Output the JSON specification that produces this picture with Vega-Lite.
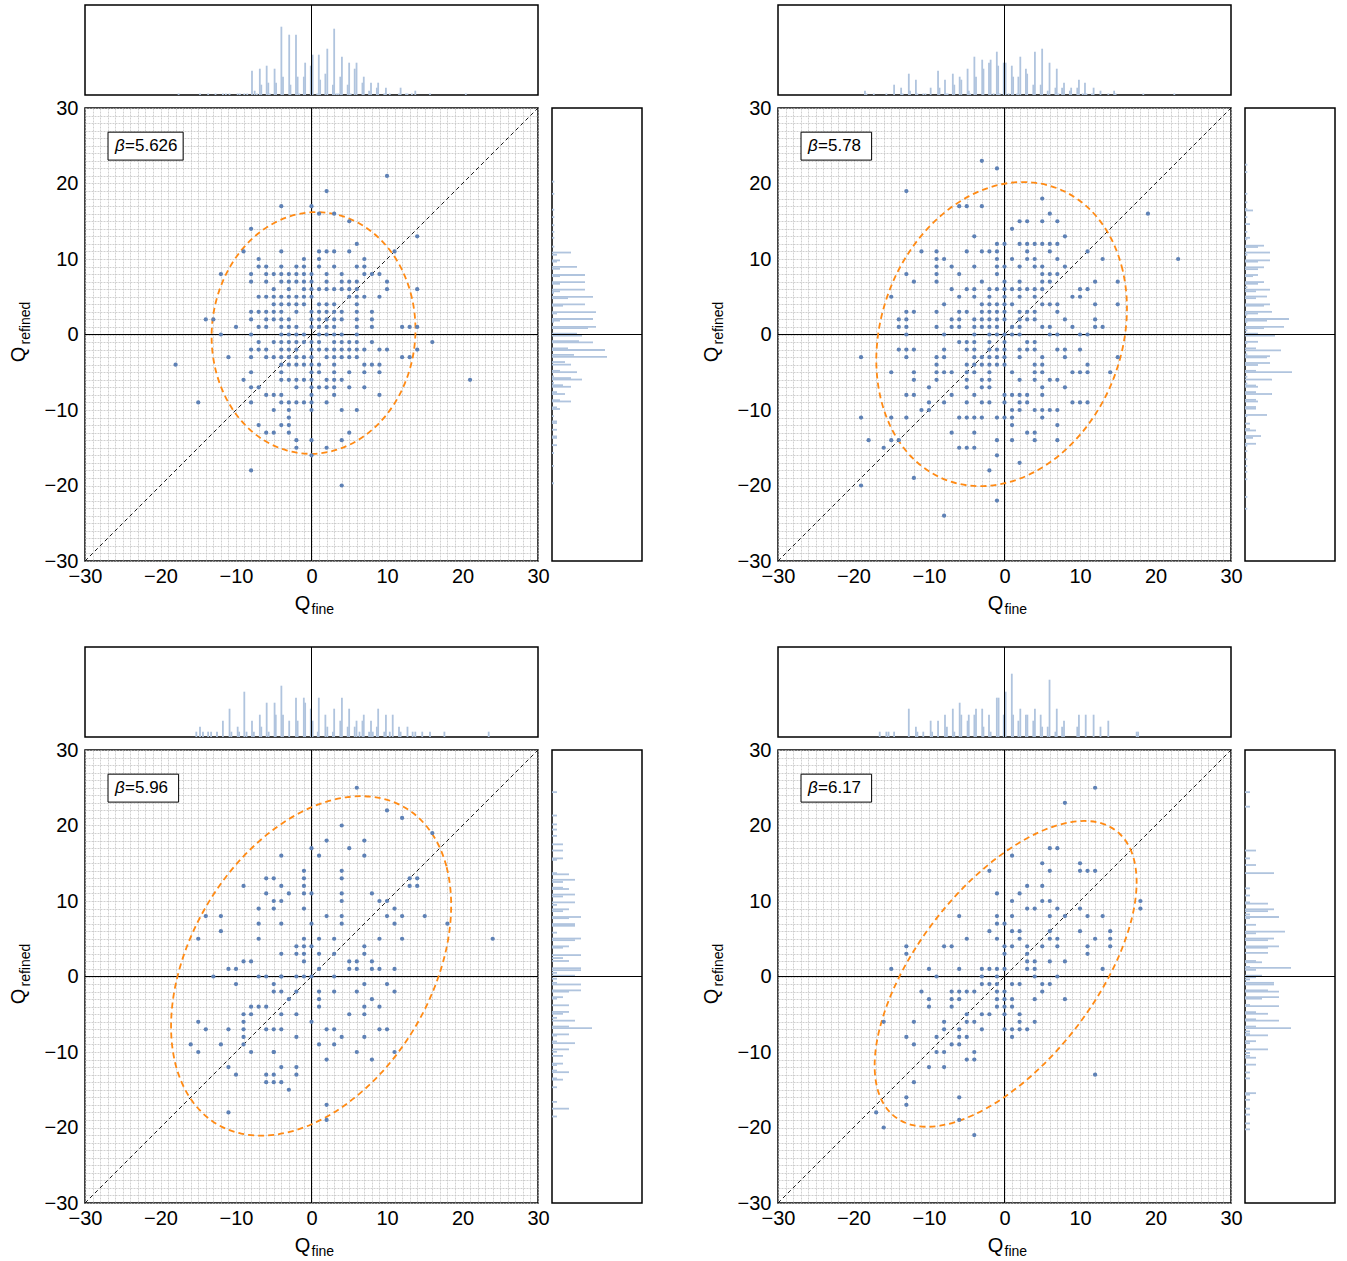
{
"$schema": "https://vega.github.io/schema/vega-lite/v6.json",
"background": "white",
"padding": {"left": 8, "top": 3, "right": 0, "bottom": 0},
"config": {
  "view": {"stroke": null},
  "font": "Liberation Sans",
  "axis": {"grid": true, "gridColor": "#c4c4c4", "gridOpacity": 1, "gridWidth": 0.8, "gridDash": [2, 1], "ticks": false, "domain": false, "labelFont": "Liberation Sans", "labelFontSize": 20, "labelColor": "black", "labelFlush": false, "labelOverlap": false}
},
"datasets": {
"p1": [{"x":10,"y":21},{"x":2,"y":19},{"x":-4,"y":17},{"x":0,"y":17},{"x":1,"y":16},{"x":3,"y":16},{"x":5,"y":15},{"x":-8,"y":14},{"x":14,"y":13},{"x":6,"y":12},
{"x":-9,"y":11},{"x":-4,"y":11},{"x":1,"y":11},{"x":2,"y":11},{"x":3,"y":11},{"x":5,"y":11},{"x":11,"y":11},
{"x":-7,"y":10},{"x":-1,"y":10},{"x":1,"y":10},{"x":7,"y":10},
{"x":-7,"y":9},{"x":-6,"y":9},{"x":-4,"y":9},{"x":-2,"y":9},{"x":-1,"y":9},{"x":1,"y":9},{"x":3,"y":9},{"x":6,"y":9},{"x":7,"y":9},
{"x":-12,"y":8},{"x":-8,"y":8},{"x":-6,"y":8},{"x":-5,"y":8},{"x":-4,"y":8},{"x":-3,"y":8},{"x":-2,"y":8},{"x":-1,"y":8},{"x":0,"y":8},{"x":2,"y":8},{"x":4,"y":8},{"x":7,"y":8},{"x":8,"y":8},{"x":9,"y":8},
{"x":-8,"y":7},{"x":-6,"y":7},{"x":-4,"y":7},{"x":-3,"y":7},{"x":-2,"y":7},{"x":-1,"y":7},{"x":0,"y":7},{"x":2,"y":7},{"x":4,"y":7},{"x":5,"y":7},{"x":6,"y":7},{"x":10,"y":7},
{"x":-5,"y":6},{"x":-3,"y":6},{"x":-1,"y":6},{"x":0,"y":6},{"x":1,"y":6},{"x":2,"y":6},{"x":3,"y":6},{"x":4,"y":6},{"x":5,"y":6},{"x":6,"y":6},{"x":10,"y":6},{"x":14,"y":6},
{"x":-7,"y":5},{"x":-6,"y":5},{"x":-5,"y":5},{"x":-4,"y":5},{"x":-3,"y":5},{"x":-2,"y":5},{"x":-1,"y":5},{"x":0,"y":5},{"x":5,"y":5},{"x":6,"y":5},{"x":7,"y":5},{"x":9,"y":5},
{"x":-5,"y":4},{"x":-4,"y":4},{"x":-3,"y":4},{"x":-2,"y":4},{"x":-1,"y":4},{"x":1,"y":4},{"x":2,"y":4},{"x":3,"y":4},{"x":6,"y":4},
{"x":-8,"y":3},{"x":-7,"y":3},{"x":-6,"y":3},{"x":-5,"y":3},{"x":-4,"y":3},{"x":-2,"y":3},{"x":0,"y":3},{"x":1,"y":3},{"x":2,"y":3},{"x":3,"y":3},{"x":4,"y":3},{"x":6,"y":3},{"x":8,"y":3},
{"x":-14,"y":2},{"x":-13,"y":2},{"x":-8,"y":2},{"x":-6,"y":2},{"x":-5,"y":2},{"x":-4,"y":2},{"x":-3,"y":2},{"x":0,"y":2},{"x":1,"y":2},{"x":2,"y":2},{"x":3,"y":2},{"x":4,"y":2},{"x":6,"y":2},{"x":8,"y":2},
{"x":-10,"y":1},{"x":-7,"y":1},{"x":-6,"y":1},{"x":-4,"y":1},{"x":-3,"y":1},{"x":-2,"y":1},{"x":0,"y":1},{"x":1,"y":1},{"x":2,"y":1},{"x":3,"y":1},{"x":6,"y":1},{"x":8,"y":1},{"x":12,"y":1},{"x":13,"y":1},{"x":14,"y":1},
{"x":-12,"y":0},{"x":-8,"y":0},{"x":-4,"y":0},{"x":-3,"y":0},{"x":-2,"y":0},{"x":-1,"y":0},{"x":1,"y":0},{"x":2,"y":0},{"x":3,"y":0},{"x":4,"y":0},{"x":6,"y":0},
{"x":-7,"y":-1},{"x":-5,"y":-1},{"x":-4,"y":-1},{"x":-3,"y":-1},{"x":-2,"y":-1},{"x":-1,"y":-1},{"x":0,"y":-1},{"x":1,"y":-1},{"x":3,"y":-1},{"x":4,"y":-1},{"x":5,"y":-1},{"x":6,"y":-1},{"x":8,"y":-1},{"x":16,"y":-1},
{"x":-8,"y":-2},{"x":-7,"y":-2},{"x":-6,"y":-2},{"x":-4,"y":-2},{"x":-3,"y":-2},{"x":-2,"y":-2},{"x":0,"y":-2},{"x":1,"y":-2},{"x":2,"y":-2},{"x":3,"y":-2},{"x":4,"y":-2},{"x":5,"y":-2},{"x":6,"y":-2},{"x":7,"y":-2},{"x":9,"y":-2},{"x":10,"y":-2},{"x":14,"y":-2},
{"x":-11,"y":-3},{"x":-8,"y":-3},{"x":-6,"y":-3},{"x":-5,"y":-3},{"x":-4,"y":-3},{"x":-3,"y":-3},{"x":-2,"y":-3},{"x":-1,"y":-3},{"x":0,"y":-3},{"x":2,"y":-3},{"x":3,"y":-3},{"x":4,"y":-3},{"x":5,"y":-3},{"x":6,"y":-3},{"x":12,"y":-3},{"x":13,"y":-3},
{"x":-18,"y":-4},{"x":-4,"y":-4},{"x":-3,"y":-4},{"x":-2,"y":-4},{"x":-1,"y":-4},{"x":0,"y":-4},{"x":1,"y":-4},{"x":3,"y":-4},{"x":7,"y":-4},{"x":8,"y":-4},{"x":9,"y":-4},
{"x":-8,"y":-5},{"x":-4,"y":-5},{"x":0,"y":-5},{"x":1,"y":-5},{"x":3,"y":-5},{"x":5,"y":-5},{"x":7,"y":-5},{"x":9,"y":-5},
{"x":-9,"y":-6},{"x":-4,"y":-6},{"x":-3,"y":-6},{"x":-2,"y":-6},{"x":-1,"y":-6},{"x":0,"y":-6},{"x":2,"y":-6},{"x":3,"y":-6},{"x":4,"y":-6},{"x":21,"y":-6},
{"x":-8,"y":-7},{"x":-7,"y":-7},{"x":-2,"y":-7},{"x":0,"y":-7},{"x":1,"y":-7},{"x":2,"y":-7},{"x":3,"y":-7},{"x":5,"y":-7},{"x":7,"y":-7},
{"x":-6,"y":-8},{"x":-5,"y":-8},{"x":-4,"y":-8},{"x":0,"y":-8},{"x":3,"y":-8},{"x":9,"y":-8},
{"x":-15,"y":-9},{"x":-8,"y":-9},{"x":-4,"y":-9},{"x":-3,"y":-9},{"x":-2,"y":-9},{"x":-1,"y":-9},{"x":0,"y":-9},{"x":2,"y":-9},
{"x":-5,"y":-10},{"x":-3,"y":-10},{"x":0,"y":-10},{"x":4,"y":-10},{"x":6,"y":-10},
{"x":-3,"y":-11},{"x":-7,"y":-12},{"x":-4,"y":-12},{"x":-3,"y":-12},
{"x":-6,"y":-13},{"x":-5,"y":-13},{"x":-3,"y":-13},{"x":5,"y":-13},
{"x":-2,"y":-14},{"x":0,"y":-14},{"x":4,"y":-14},{"x":-2,"y":-15},{"x":2,"y":-15},{"x":0,"y":-16},{"x":-8,"y":-18},{"x":4,"y":-20}],
"p2": [{"x":-3,"y":23},{"x":-1,"y":22},{"x":-13,"y":19},{"x":5,"y":18},{"x":-6,"y":17},{"x":-5,"y":17},{"x":-3,"y":17},{"x":6,"y":16},{"x":19,"y":16},{"x":2,"y":15},{"x":3,"y":15},{"x":5,"y":15},{"x":7,"y":15},{"x":1,"y":14},{"x":-4,"y":13},{"x":8,"y":13},
{"x":-1,"y":12},{"x":0,"y":12},{"x":2,"y":12},{"x":3,"y":12},{"x":4,"y":12},{"x":5,"y":12},{"x":6,"y":12},{"x":7,"y":12},
{"x":-11,"y":11},{"x":-9,"y":11},{"x":-5,"y":11},{"x":-3,"y":11},{"x":-2,"y":11},{"x":-1,"y":11},{"x":3,"y":11},{"x":6,"y":11},{"x":11,"y":11},
{"x":-9,"y":10},{"x":-8,"y":10},{"x":-1,"y":10},{"x":1,"y":10},{"x":3,"y":10},{"x":4,"y":10},{"x":7,"y":10},{"x":13,"y":10},{"x":23,"y":10},
{"x":-9,"y":9},{"x":-7,"y":9},{"x":-4,"y":9},{"x":-1,"y":9},{"x":0,"y":9},{"x":2,"y":9},{"x":4,"y":9},{"x":5,"y":9},{"x":8,"y":9},
{"x":-13,"y":8},{"x":-9,"y":8},{"x":-6,"y":8},{"x":-1,"y":8},{"x":5,"y":8},{"x":6,"y":8},{"x":7,"y":8},
{"x":-12,"y":7},{"x":-9,"y":7},{"x":-3,"y":7},{"x":0,"y":7},{"x":2,"y":7},{"x":5,"y":7},{"x":6,"y":7},{"x":12,"y":7},{"x":15,"y":7},
{"x":-7,"y":6},{"x":-5,"y":6},{"x":-4,"y":6},{"x":-2,"y":6},{"x":-1,"y":6},{"x":0,"y":6},{"x":1,"y":6},{"x":2,"y":6},{"x":3,"y":6},{"x":4,"y":6},{"x":5,"y":6},{"x":10,"y":6},{"x":11,"y":6},
{"x":-15,"y":5},{"x":-6,"y":5},{"x":-4,"y":5},{"x":-2,"y":5},{"x":0,"y":5},{"x":2,"y":5},{"x":4,"y":5},{"x":9,"y":5},{"x":10,"y":5},
{"x":-8,"y":4},{"x":-3,"y":4},{"x":-2,"y":4},{"x":-1,"y":4},{"x":0,"y":4},{"x":1,"y":4},{"x":5,"y":4},{"x":6,"y":4},{"x":7,"y":4},{"x":12,"y":4},{"x":15,"y":4},
{"x":-13,"y":3},{"x":-12,"y":3},{"x":-9,"y":3},{"x":-6,"y":3},{"x":-5,"y":3},{"x":-3,"y":3},{"x":-2,"y":3},{"x":-1,"y":3},{"x":0,"y":3},{"x":2,"y":3},{"x":3,"y":3},{"x":4,"y":3},{"x":7,"y":3},
{"x":-14,"y":2},{"x":-13,"y":2},{"x":-7,"y":2},{"x":-6,"y":2},{"x":-4,"y":2},{"x":-3,"y":2},{"x":-2,"y":2},{"x":-1,"y":2},{"x":0,"y":2},{"x":2,"y":2},{"x":3,"y":2},{"x":4,"y":2},{"x":8,"y":2},{"x":12,"y":2},
{"x":-14,"y":1},{"x":-13,"y":1},{"x":-9,"y":1},{"x":-7,"y":1},{"x":-6,"y":1},{"x":-4,"y":1},{"x":-3,"y":1},{"x":-2,"y":1},{"x":-1,"y":1},{"x":1,"y":1},{"x":2,"y":1},{"x":5,"y":1},{"x":6,"y":1},{"x":9,"y":1},{"x":12,"y":1},{"x":13,"y":1},
{"x":-13,"y":0},{"x":-8,"y":0},{"x":-4,"y":0},{"x":-2,"y":0},{"x":-1,"y":0},{"x":0,"y":0},{"x":1,"y":0},{"x":2,"y":0},{"x":6,"y":0},{"x":7,"y":0},{"x":10,"y":0},{"x":11,"y":0},
{"x":-6,"y":-1},{"x":-5,"y":-1},{"x":-4,"y":-1},{"x":-2,"y":-1},{"x":0,"y":-1},{"x":3,"y":-1},{"x":4,"y":-1},
{"x":-14,"y":-2},{"x":-13,"y":-2},{"x":-12,"y":-2},{"x":-8,"y":-2},{"x":-5,"y":-2},{"x":-4,"y":-2},{"x":-2,"y":-2},{"x":-1,"y":-2},{"x":0,"y":-2},{"x":2,"y":-2},{"x":3,"y":-2},{"x":4,"y":-2},{"x":7,"y":-2},{"x":8,"y":-2},{"x":10,"y":-2},
{"x":-19,"y":-3},{"x":-13,"y":-3},{"x":-9,"y":-3},{"x":-8,"y":-3},{"x":-4,"y":-3},{"x":-3,"y":-3},{"x":-2,"y":-3},{"x":-1,"y":-3},{"x":0,"y":-3},{"x":2,"y":-3},{"x":5,"y":-3},{"x":8,"y":-3},{"x":15,"y":-3},
{"x":-9,"y":-4},{"x":-5,"y":-4},{"x":-4,"y":-4},{"x":-3,"y":-4},{"x":-2,"y":-4},{"x":-1,"y":-4},{"x":0,"y":-4},{"x":4,"y":-4},{"x":5,"y":-4},{"x":11,"y":-4},
{"x":-15,"y":-5},{"x":-12,"y":-5},{"x":-9,"y":-5},{"x":-8,"y":-5},{"x":-7,"y":-5},{"x":-5,"y":-5},{"x":-4,"y":-5},{"x":-2,"y":-5},{"x":1,"y":-5},{"x":4,"y":-5},{"x":5,"y":-5},{"x":9,"y":-5},{"x":10,"y":-5},{"x":11,"y":-5},{"x":14,"y":-5},
{"x":-12,"y":-6},{"x":-9,"y":-6},{"x":-5,"y":-6},{"x":-3,"y":-6},{"x":-2,"y":-6},{"x":2,"y":-6},{"x":4,"y":-6},{"x":6,"y":-6},{"x":7,"y":-6},
{"x":-10,"y":-7},{"x":-5,"y":-7},{"x":-3,"y":-7},{"x":-2,"y":-7},{"x":5,"y":-7},{"x":8,"y":-7},
{"x":-13,"y":-8},{"x":-12,"y":-8},{"x":-7,"y":-8},{"x":-4,"y":-8},{"x":0,"y":-8},{"x":1,"y":-8},{"x":2,"y":-8},{"x":3,"y":-8},{"x":5,"y":-8},
{"x":-10,"y":-9},{"x":-8,"y":-9},{"x":-5,"y":-9},{"x":-3,"y":-9},{"x":-2,"y":-9},{"x":0,"y":-9},{"x":2,"y":-9},{"x":3,"y":-9},{"x":9,"y":-9},{"x":10,"y":-9},{"x":11,"y":-9},
{"x":-11,"y":-10},{"x":-10,"y":-10},{"x":1,"y":-10},{"x":2,"y":-10},{"x":4,"y":-10},{"x":5,"y":-10},{"x":6,"y":-10},{"x":7,"y":-10},
{"x":-19,"y":-11},{"x":-15,"y":-11},{"x":-13,"y":-11},{"x":-6,"y":-11},{"x":-5,"y":-11},{"x":-4,"y":-11},{"x":-3,"y":-11},{"x":-1,"y":-11},{"x":0,"y":-11},{"x":1,"y":-11},{"x":5,"y":-11},
{"x":1,"y":-12},{"x":7,"y":-12},{"x":-7,"y":-13},{"x":-4,"y":-13},{"x":3,"y":-13},{"x":4,"y":-13},
{"x":-18,"y":-14},{"x":-15,"y":-14},{"x":-14,"y":-14},{"x":-1,"y":-14},{"x":1,"y":-14},{"x":4,"y":-14},{"x":7,"y":-14},
{"x":-16,"y":-15},{"x":-6,"y":-15},{"x":-5,"y":-15},{"x":-4,"y":-15},
{"x":-1,"y":-16},{"x":2,"y":-17},{"x":-2,"y":-18},{"x":-12,"y":-19},{"x":-19,"y":-20},{"x":-1,"y":-22},{"x":-8,"y":-24}],
"p3": [{"x":6,"y":25},{"x":10,"y":22},{"x":12,"y":21},{"x":4,"y":20},{"x":16,"y":19},{"x":2,"y":18},{"x":7,"y":18},{"x":0,"y":17},{"x":5,"y":17},{"x":-4,"y":16},{"x":1,"y":16},{"x":7,"y":16},{"x":-1,"y":14},{"x":4,"y":14},
{"x":-6,"y":13},{"x":-5,"y":13},{"x":-1,"y":13},{"x":4,"y":13},{"x":13,"y":13},{"x":14,"y":13},
{"x":-9,"y":12},{"x":-4,"y":12},{"x":-1,"y":12},{"x":13,"y":12},{"x":14,"y":12},
{"x":-6,"y":11},{"x":-3,"y":11},{"x":-1,"y":11},{"x":0,"y":11},{"x":4,"y":11},{"x":8,"y":11},
{"x":-5,"y":10},{"x":-4,"y":10},{"x":4,"y":10},{"x":9,"y":10},{"x":10,"y":10},
{"x":-7,"y":9},{"x":-5,"y":9},{"x":-1,"y":9},{"x":11,"y":9},
{"x":-14,"y":8},{"x":-12,"y":8},{"x":2,"y":8},{"x":4,"y":8},{"x":10,"y":8},{"x":12,"y":8},{"x":15,"y":8},
{"x":-7,"y":7},{"x":-4,"y":7},{"x":0,"y":7},{"x":4,"y":7},{"x":11,"y":7},{"x":18,"y":7},
{"x":-12,"y":6},
{"x":-15,"y":5},{"x":-7,"y":5},{"x":-1,"y":5},{"x":1,"y":5},{"x":3,"y":5},{"x":9,"y":5},{"x":12,"y":5},{"x":24,"y":5},
{"x":-2,"y":4},{"x":-1,"y":4},{"x":0,"y":4},{"x":7,"y":4},
{"x":-4,"y":3},{"x":-2,"y":3},{"x":-1,"y":3},{"x":1,"y":3},{"x":3,"y":3},{"x":7,"y":3},
{"x":-9,"y":2},{"x":-8,"y":2},{"x":-1,"y":2},{"x":5,"y":2},{"x":6,"y":2},{"x":8,"y":2},
{"x":-11,"y":1},{"x":-10,"y":1},{"x":1,"y":1},{"x":5,"y":1},{"x":6,"y":1},{"x":8,"y":1},{"x":9,"y":1},{"x":11,"y":1},
{"x":0,"y":0},{"x":-13,"y":0},{"x":-7,"y":0},{"x":-6,"y":0},{"x":-4,"y":0},{"x":-2,"y":0},{"x":-1,"y":0},{"x":3,"y":0},{"x":-4,"y":0},
{"x":-10,"y":-1},{"x":-5,"y":-1},{"x":7,"y":-1},{"x":10,"y":-1},
{"x":-5,"y":-2},{"x":-4,"y":-2},{"x":-2,"y":-2},{"x":1,"y":-2},{"x":3,"y":-2},{"x":6,"y":-2},{"x":11,"y":-2},
{"x":-3,"y":-3},{"x":1,"y":-3},{"x":8,"y":-3},
{"x":-8,"y":-4},{"x":-7,"y":-4},{"x":-6,"y":-4},{"x":1,"y":-4},{"x":7,"y":-4},{"x":9,"y":-4},
{"x":-9,"y":-5},{"x":-8,"y":-5},{"x":-4,"y":-5},{"x":-2,"y":-5},{"x":5,"y":-5},{"x":7,"y":-5},
{"x":-9,"y":-6},{"x":-15,"y":-6},{"x":0,"y":-6},
{"x":-14,"y":-7},{"x":-11,"y":-7},{"x":-9,"y":-7},{"x":-6,"y":-7},{"x":-5,"y":-7},{"x":-4,"y":-7},{"x":2,"y":-7},{"x":3,"y":-7},{"x":9,"y":-7},{"x":10,"y":-7},
{"x":-9,"y":-8},{"x":-2,"y":-8},{"x":4,"y":-8},{"x":7,"y":-8},
{"x":-16,"y":-9},{"x":-12,"y":-9},{"x":-9,"y":-9},{"x":1,"y":-9},{"x":3,"y":-9},
{"x":-8,"y":-10},{"x":-5,"y":-10},{"x":-5,"y":-10},{"x":6,"y":-10},{"x":11,"y":-10},{"x":-15,"y":-10},
{"x":2,"y":-11},{"x":8,"y":-11},
{"x":-11,"y":-12},{"x":-4,"y":-12},{"x":-2,"y":-12},
{"x":-10,"y":-13},{"x":-6,"y":-13},{"x":-5,"y":-13},{"x":-2,"y":-13},
{"x":-6,"y":-14},{"x":-5,"y":-14},{"x":-4,"y":-14},
{"x":-3,"y":-15},{"x":2,"y":-17},{"x":-11,"y":-18},{"x":2,"y":-19}],
"p4": [{"x":12,"y":25},{"x":8,"y":23},{"x":6,"y":17},{"x":7,"y":17},{"x":1,"y":16},{"x":5,"y":15},{"x":10,"y":15},{"x":-2,"y":14},{"x":6,"y":14},{"x":10,"y":14},{"x":11,"y":14},{"x":12,"y":14},{"x":3,"y":12},{"x":5,"y":12},{"x":-1,"y":11},{"x":2,"y":11},
{"x":1,"y":10},{"x":5,"y":10},{"x":6,"y":10},{"x":18,"y":10},
{"x":3,"y":9},{"x":4,"y":9},{"x":7,"y":9},{"x":10,"y":9},{"x":18,"y":9},
{"x":-6,"y":8},{"x":-1,"y":8},{"x":1,"y":8},{"x":6,"y":8},{"x":8,"y":8},{"x":11,"y":8},{"x":13,"y":8},
{"x":-1,"y":7},{"x":0,"y":7},
{"x":-2,"y":6},{"x":1,"y":6},{"x":2,"y":6},{"x":6,"y":6},{"x":10,"y":6},{"x":14,"y":6},
{"x":-5,"y":5},{"x":-1,"y":5},{"x":2,"y":5},{"x":6,"y":5},{"x":7,"y":5},{"x":12,"y":5},{"x":14,"y":5},
{"x":-13,"y":4},{"x":-8,"y":4},{"x":-7,"y":4},{"x":0,"y":4},{"x":1,"y":4},{"x":3,"y":4},{"x":5,"y":4},{"x":7,"y":4},{"x":11,"y":4},{"x":14,"y":4},
{"x":-13,"y":3},{"x":0,"y":3},{"x":3,"y":3},{"x":11,"y":3},
{"x":3,"y":2},{"x":4,"y":2},{"x":6,"y":2},{"x":8,"y":2},
{"x":-15,"y":1},{"x":-10,"y":1},{"x":-6,"y":1},{"x":-3,"y":1},{"x":-2,"y":1},{"x":-1,"y":1},{"x":0,"y":1},{"x":3,"y":1},{"x":4,"y":1},{"x":13,"y":1},
{"x":-9,"y":0},{"x":-3,"y":0},{"x":-1,"y":0},{"x":4,"y":0},{"x":7,"y":0},
{"x":-3,"y":-1},{"x":-2,"y":-1},{"x":-1,"y":-1},{"x":1,"y":-1},{"x":2,"y":-1},{"x":5,"y":-1},{"x":6,"y":-1},
{"x":-11,"y":-2},{"x":-7,"y":-2},{"x":-6,"y":-2},{"x":-5,"y":-2},{"x":-4,"y":-2},{"x":-1,"y":-2},{"x":0,"y":-2},{"x":5,"y":-2},
{"x":-10,"y":-3},{"x":-7,"y":-3},{"x":-6,"y":-3},{"x":-1,"y":-3},{"x":0,"y":-3},{"x":1,"y":-3},{"x":4,"y":-3},{"x":8,"y":-3},
{"x":-10,"y":-4},{"x":-7,"y":-4},{"x":-1,"y":-4},{"x":0,"y":-4},{"x":1,"y":-4},
{"x":-5,"y":-5},{"x":-3,"y":-5},{"x":-2,"y":-5},{"x":0,"y":-5},{"x":2,"y":-5},
{"x":-16,"y":-6},{"x":-12,"y":-6},{"x":-8,"y":-6},{"x":-5,"y":-6},{"x":-4,"y":-6},{"x":2,"y":-6},{"x":4,"y":-6},
{"x":-8,"y":-7},{"x":-6,"y":-7},{"x":-3,"y":-7},{"x":0,"y":-7},{"x":1,"y":-7},{"x":2,"y":-7},{"x":3,"y":-7},
{"x":-13,"y":-8},{"x":-9,"y":-8},{"x":-5,"y":-8},{"x":1,"y":-8},{"x":-6,"y":-8},
{"x":-12,"y":-9},{"x":-7,"y":-9},{"x":-6,"y":-9},
{"x":-9,"y":-10},{"x":-4,"y":-10},{"x":-8,"y":-10},
{"x":-5,"y":-11},{"x":-4,"y":-11},{"x":-10,"y":-12},{"x":-8,"y":-12},
{"x":12,"y":-13},{"x":-12,"y":-14},{"x":-13,"y":-16},{"x":-6,"y":-16},{"x":-13,"y":-17},{"x":-17,"y":-18},{"x":-6,"y":-19},{"x":-16,"y":-20},{"x":-4,"y":-21}],
"e1": [{"t":0,"x":13.77,"y":0.68},{"t":15,"x":13.31,"y":4.8},{"t":30,"x":11.96,"y":8.62},{"t":45,"x":9.82,"y":11.85},{"t":60,"x":7.02,"y":14.3},{"t":75,"x":3.76,"y":15.77},{"t":90,"x":0.27,"y":16.2},{"t":105,"x":-3.22,"y":15.53},{"t":120,"x":-6.48,"y":13.82},{"t":135,"x":-9.28,"y":11.17},{"t":150,"x":-11.42,"y":7.78},{"t":165,"x":-12.77,"y":3.88},{"t":180,"x":-13.23,"y":-0.28},{"t":195,"x":-12.77,"y":-4.4},{"t":210,"x":-11.42,"y":-8.22},{"t":225,"x":-9.28,"y":-11.45},{"t":240,"x":-6.48,"y":-13.9},{"t":255,"x":-3.22,"y":-15.37},{"t":270,"x":0.27,"y":-15.8},{"t":285,"x":3.76,"y":-15.13},{"t":300,"x":7.02,"y":-13.42},{"t":315,"x":9.82,"y":-10.77},{"t":330,"x":11.96,"y":-7.38},{"t":345,"x":13.31,"y":-3.48}],
"e2": [{"t":0,"x":16.22,"y":3.48},{"t":15,"x":15.65,"y":8.5},{"t":30,"x":14.0,"y":12.95},{"t":45,"x":11.36,"y":16.52},{"t":60,"x":7.92,"y":18.96},{"t":75,"x":3.92,"y":20.11},{"t":90,"x":-0.38,"y":19.9},{"t":105,"x":-4.68,"y":18.33},{"t":120,"x":-8.68,"y":15.52},{"t":135,"x":-12.12,"y":11.66},{"t":150,"x":-14.76,"y":7.01},{"t":165,"x":-16.41,"y":1.88},{"t":180,"x":-16.98,"y":-3.38},{"t":195,"x":-16.41,"y":-8.4},{"t":210,"x":-14.76,"y":-12.85},{"t":225,"x":-12.12,"y":-16.42},{"t":240,"x":-8.68,"y":-18.86},{"t":255,"x":-4.68,"y":-20.01},{"t":270,"x":-0.38,"y":-19.8},{"t":285,"x":3.92,"y":-18.23},{"t":300,"x":7.92,"y":-15.42},{"t":315,"x":11.36,"y":-11.56},{"t":330,"x":14.0,"y":-6.91},{"t":345,"x":15.65,"y":-1.78}],
"e3": [{"t":0,"x":18.5,"y":9.43},{"t":15,"x":17.87,"y":14.59},{"t":30,"x":16.01,"y":18.85},{"t":45,"x":13.07,"y":21.93},{"t":60,"x":9.23,"y":23.61},{"t":75,"x":4.75,"y":23.76},{"t":90,"x":-0.05,"y":22.4},{"t":105,"x":-4.85,"y":19.6},{"t":120,"x":-9.33,"y":15.57},{"t":135,"x":-13.17,"y":10.57},{"t":150,"x":-16.11,"y":4.95},{"t":165,"x":-17.97,"y":-0.93},{"t":180,"x":-18.6,"y":-6.63},{"t":195,"x":-17.97,"y":-11.79},{"t":210,"x":-16.11,"y":-16.05},{"t":225,"x":-13.17,"y":-19.13},{"t":240,"x":-9.33,"y":-20.81},{"t":255,"x":-4.85,"y":-20.96},{"t":270,"x":-0.05,"y":-19.6},{"t":285,"x":4.75,"y":-16.8},{"t":300,"x":9.23,"y":-12.77},{"t":315,"x":13.07,"y":-7.77},{"t":330,"x":16.01,"y":-2.15},{"t":345,"x":17.87,"y":3.73}],
"e4": [{"t":0,"x":17.5,"y":12.5},{"t":15,"x":16.91,"y":16.28},{"t":30,"x":15.18,"y":18.97},{"t":45,"x":12.42,"y":20.4},{"t":60,"x":8.83,"y":20.46},{"t":75,"x":4.64,"y":19.14},{"t":90,"x":0.15,"y":16.55},{"t":105,"x":-4.34,"y":12.86},{"t":120,"x":-8.53,"y":8.3},{"t":135,"x":-12.12,"y":3.22},{"t":150,"x":-14.88,"y":-2.07},{"t":165,"x":-16.61,"y":-7.2},{"t":180,"x":-17.2,"y":-11.8},{"t":195,"x":-16.61,"y":-15.58},{"t":210,"x":-14.88,"y":-18.27},{"t":225,"x":-12.12,"y":-19.7},{"t":240,"x":-8.53,"y":-19.76},{"t":255,"x":-4.34,"y":-18.44},{"t":270,"x":0.15,"y":-15.85},{"t":285,"x":4.64,"y":-12.16},{"t":300,"x":8.83,"y":-7.6},{"t":315,"x":12.42,"y":-2.52},{"t":330,"x":15.18,"y":2.77},{"t":345,"x":16.91,"y":7.9}],
"t1": [{"q":-18.0,"n":1.5},{"q":-15.1,"n":1.5},{"q":-14.0,"n":1.5},{"q":-13.0,"n":1.5},{"q":-12.0,"n":1.5},{"q":-11.6,"n":1.5},{"q":-11.1,"n":1.5},{"q":-10.0,"n":1.5},{"q":-9.7,"n":1.5},{"q":-9.1,"n":1.5},{"q":-8.7,"n":1.5},{"q":-8.06,"n":24.3},{"q":-7.7,"n":4.3},{"q":-7.4,"n":1.5},{"q":-7.0,"n":26.3},{"q":-6.8,"n":10.3},{"q":-6.07,"n":29.3},{"q":-5.85,"n":12.3},{"q":-5.65,"n":1.5},{"q":-5.0,"n":26.3},{"q":-4.8,"n":12.3},{"q":-4.08,"n":68.3},{"q":-3.86,"n":18.3},{"q":-3.02,"n":60.3},{"q":-2.85,"n":10.3},{"q":-2.1,"n":60.3},{"q":-1.88,"n":18.3},{"q":-1.65,"n":1.5},{"q":-1.04,"n":18.3},{"q":-0.86,"n":32.3},{"q":-0.1,"n":29.3},{"q":0.15,"n":40.3},{"q":0.77,"n":1.5},{"q":0.99,"n":40.3},{"q":1.17,"n":15.3},{"q":1.88,"n":21.3},{"q":2.14,"n":46.3},{"q":2.9,"n":10.3},{"q":3.07,"n":66.3},{"q":3.35,"n":1.5},{"q":3.6,"n":1.5},{"q":3.9,"n":18.3},{"q":4.12,"n":38.3},{"q":4.9,"n":10.3},{"q":5.1,"n":32.3},{"q":5.3,"n":1.5},{"q":5.85,"n":26.3},{"q":6.1,"n":32.3},{"q":6.9,"n":12.3},{"q":7.08,"n":18.3},{"q":7.8,"n":4.3},{"q":8.06,"n":12.3},{"q":8.85,"n":7.3},{"q":9.03,"n":12.3},{"q":9.86,"n":1.5},{"q":10.08,"n":7.3},{"q":10.6,"n":1.5},{"q":11.85,"n":1.5},{"q":12.07,"n":7.3},{"q":12.8,"n":1.5},{"q":13.0,"n":1.5},{"q":13.6,"n":1.5},{"q":14.06,"n":4.3},{"q":16.05,"n":1.5},{"q":20.9,"n":1.5}],
"t2": [{"q":-18.9,"n":4.3},{"q":-18.7,"n":1.5},{"q":-17.7,"n":1.5},{"q":-16.0,"n":1.5},{"q":-14.95,"n":10.3},{"q":-14.0,"n":7.3},{"q":-13.8,"n":1.5},{"q":-12.96,"n":21.3},{"q":-12.8,"n":4.3},{"q":-12.0,"n":15.3},{"q":-11.8,"n":1.5},{"q":-11.0,"n":1.5},{"q":-10.7,"n":1.5},{"q":-10.0,"n":7.3},{"q":-9.0,"n":24.3},{"q":-8.8,"n":7.3},{"q":-8.06,"n":15.3},{"q":-7.9,"n":1.5},{"q":-7.7,"n":1.5},{"q":-7.0,"n":21.3},{"q":-6.8,"n":10.3},{"q":-6.07,"n":18.3},{"q":-5.85,"n":15.3},{"q":-5.0,"n":26.3},{"q":-4.84,"n":4.3},{"q":-4.65,"n":1.5},{"q":-4.08,"n":38.3},{"q":-3.86,"n":18.3},{"q":-3.02,"n":35.3},{"q":-2.85,"n":26.3},{"q":-2.1,"n":32.3},{"q":-1.88,"n":35.3},{"q":-1.48,"n":1.5},{"q":-1.04,"n":43.3},{"q":-0.86,"n":29.3},{"q":-0.65,"n":1.5},{"q":-0.1,"n":32.3},{"q":0.15,"n":32.3},{"q":0.55,"n":1.5},{"q":0.99,"n":29.3},{"q":1.17,"n":18.3},{"q":1.7,"n":1.5},{"q":1.88,"n":18.3},{"q":2.14,"n":38.3},{"q":2.9,"n":26.3},{"q":3.07,"n":21.3},{"q":3.9,"n":10.3},{"q":4.12,"n":43.3},{"q":4.9,"n":10.3},{"q":5.1,"n":46.3},{"q":5.85,"n":4.3},{"q":6.1,"n":32.3},{"q":6.9,"n":7.3},{"q":7.08,"n":26.3},{"q":7.3,"n":1.5},{"q":7.8,"n":7.3},{"q":8.06,"n":12.3},{"q":8.85,"n":4.3},{"q":9.03,"n":7.3},{"q":9.86,"n":7.3},{"q":10.08,"n":15.3},{"q":10.6,"n":1.5},{"q":10.9,"n":12.3},{"q":11.1,"n":1.5},{"q":11.85,"n":1.5},{"q":12.07,"n":7.3},{"q":13.0,"n":4.3},{"q":14.06,"n":1.5},{"q":14.85,"n":4.3},{"q":15.05,"n":1.5},{"q":18.8,"n":1.5},{"q":23.0,"n":1.5}],
"t3": [{"q":-15.6,"n":5.3},{"q":-15.1,"n":10.3},{"q":-14.7,"n":5.3},{"q":-14.0,"n":5.3},{"q":-13.6,"n":5.3},{"q":-12.8,"n":5.3},{"q":-12.0,"n":16.3},{"q":-11.1,"n":28.3},{"q":-10.85,"n":5.3},{"q":-10.0,"n":10.3},{"q":-9.8,"n":5.3},{"q":-9.1,"n":45.3},{"q":-8.8,"n":5.3},{"q":-8.06,"n":16.3},{"q":-7.8,"n":5.3},{"q":-7.0,"n":22.3},{"q":-6.8,"n":10.3},{"q":-6.07,"n":34.3},{"q":-5.8,"n":5.3},{"q":-5.0,"n":34.3},{"q":-4.84,"n":22.3},{"q":-4.08,"n":51.3},{"q":-3.86,"n":22.3},{"q":-3.02,"n":16.3},{"q":-2.1,"n":39.3},{"q":-1.88,"n":16.3},{"q":-1.04,"n":39.3},{"q":-0.86,"n":34.3},{"q":-0.1,"n":28.3},{"q":0.15,"n":16.3},{"q":0.85,"n":5.3},{"q":0.99,"n":39.3},{"q":1.88,"n":22.3},{"q":2.14,"n":10.3},{"q":2.9,"n":5.3},{"q":3.07,"n":28.3},{"q":3.9,"n":16.3},{"q":4.12,"n":39.3},{"q":4.9,"n":10.3},{"q":5.1,"n":28.3},{"q":5.85,"n":10.3},{"q":6.1,"n":16.3},{"q":6.5,"n":5.3},{"q":6.9,"n":16.3},{"q":7.08,"n":22.3},{"q":7.8,"n":5.3},{"q":8.06,"n":16.3},{"q":8.3,"n":5.3},{"q":8.85,"n":10.3},{"q":9.03,"n":28.3},{"q":9.86,"n":5.3},{"q":10.08,"n":22.3},{"q":10.6,"n":5.3},{"q":11.0,"n":22.3},{"q":11.85,"n":10.3},{"q":12.07,"n":5.3},{"q":13.0,"n":10.3},{"q":13.7,"n":5.3},{"q":14.06,"n":5.3},{"q":15.0,"n":5.3},{"q":16.05,"n":5.3},{"q":18.0,"n":5.3},{"q":24.0,"n":5.3}],
"t4": [{"q":-16.9,"n":5.3},{"q":-16.0,"n":5.3},{"q":-15.7,"n":5.3},{"q":-14.95,"n":5.3},{"q":-12.96,"n":28.3},{"q":-12.0,"n":10.3},{"q":-11.8,"n":5.3},{"q":-11.0,"n":5.3},{"q":-10.0,"n":16.3},{"q":-9.8,"n":5.3},{"q":-9.0,"n":16.3},{"q":-8.06,"n":22.3},{"q":-7.8,"n":10.3},{"q":-7.0,"n":28.3},{"q":-6.8,"n":5.3},{"q":-6.07,"n":34.3},{"q":-5.85,"n":22.3},{"q":-5.0,"n":16.3},{"q":-4.84,"n":22.3},{"q":-4.08,"n":22.3},{"q":-3.86,"n":28.3},{"q":-3.02,"n":28.3},{"q":-2.85,"n":10.3},{"q":-2.1,"n":22.3},{"q":-1.88,"n":5.3},{"q":-1.04,"n":39.3},{"q":-0.8,"n":39.3},{"q":-0.1,"n":22.3},{"q":0.15,"n":45.3},{"q":0.99,"n":63.3},{"q":1.17,"n":22.3},{"q":1.88,"n":16.3},{"q":2.14,"n":28.3},{"q":2.9,"n":22.3},{"q":3.1,"n":22.3},{"q":3.9,"n":16.3},{"q":4.12,"n":28.3},{"q":4.9,"n":22.3},{"q":5.1,"n":10.3},{"q":5.85,"n":10.3},{"q":6.1,"n":57.3},{"q":6.9,"n":5.3},{"q":7.08,"n":28.3},{"q":7.8,"n":10.3},{"q":8.06,"n":16.3},{"q":9.86,"n":10.3},{"q":10.08,"n":22.3},{"q":11.0,"n":22.3},{"q":12.07,"n":22.3},{"q":13.0,"n":10.3},{"q":14.06,"n":16.3},{"q":17.9,"n":5.3},{"q":18.1,"n":5.3}],
"r1": [{"q":20.7,"n":2.3},{"q":19.05,"n":2.3},{"q":16.9,"n":2.3},{"q":15.9,"n":2.3},{"q":14.8,"n":2.3},{"q":13.9,"n":2.3},{"q":13.1,"n":2.3},{"q":11.9,"n":2.3},{"q":11.1,"n":19},{"q":10.8,"n":5},{"q":10.04,"n":8},{"q":9.87,"n":5},{"q":9.16,"n":25},{"q":8.9,"n":8},{"q":8.06,"n":33},{"q":7.9,"n":8},{"q":7.1,"n":33},{"q":6.87,"n":8},{"q":6.07,"n":33},{"q":5.85,"n":8},{"q":5.65,"n":2},{"q":5.1,"n":41},{"q":4.92,"n":16},{"q":4.08,"n":33},{"q":3.9,"n":11},{"q":3.02,"n":44},{"q":2.85,"n":5},{"q":2.1,"n":41},{"q":1.88,"n":8},{"q":1.7,"n":2},{"q":1.04,"n":44},{"q":0.86,"n":36},{"q":0.11,"n":25},{"q":-0.15,"n":30},{"q":-0.9,"n":27},{"q":-1.08,"n":41},{"q":-1.88,"n":16},{"q":-2.1,"n":53},{"q":-2.76,"n":22},{"q":-3.02,"n":55},{"q":-3.73,"n":13},{"q":-4.08,"n":19},{"q":-4.92,"n":8},{"q":-5.1,"n":25},{"q":-5.67,"n":2},{"q":-5.9,"n":19},{"q":-6.1,"n":30},{"q":-6.55,"n":2},{"q":-6.87,"n":11},{"q":-7.08,"n":19},{"q":-7.8,"n":5},{"q":-8.06,"n":13},{"q":-8.9,"n":8},{"q":-9.07,"n":19},{"q":-9.87,"n":5},{"q":-10.09,"n":8},{"q":-11.06,"n":2},{"q":-11.77,"n":5},{"q":-11.99,"n":5},{"q":-12.9,"n":5},{"q":-13.8,"n":5},{"q":-14.0,"n":5},{"q":-14.99,"n":5},{"q":-16.05,"n":2},{"q":-17.8,"n":2},{"q":-20.15,"n":2}],
"r2": [{"q":23.0,"n":2.3},{"q":22.0,"n":2.3},{"q":19.05,"n":2.3},{"q":17.9,"n":2.3},{"q":17.0,"n":2.3},{"q":16.8,"n":8},{"q":15.9,"n":2.3},{"q":14.95,"n":5},{"q":13.9,"n":2.3},{"q":13.1,"n":5},{"q":12.9,"n":2.3},{"q":12.03,"n":19},{"q":11.85,"n":13},{"q":11.1,"n":25},{"q":10.8,"n":2.3},{"q":10.04,"n":25},{"q":9.87,"n":13},{"q":9.1,"n":19},{"q":8.85,"n":13},{"q":8.06,"n":13},{"q":7.9,"n":8},{"q":7.1,"n":19},{"q":6.87,"n":13},{"q":6.4,"n":2.3},{"q":6.07,"n":25},{"q":5.85,"n":11},{"q":5.14,"n":22},{"q":4.92,"n":11},{"q":4.08,"n":25},{"q":3.9,"n":19},{"q":3.07,"n":27},{"q":2.85,"n":13},{"q":2.68,"n":2.3},{"q":2.1,"n":44},{"q":1.88,"n":22},{"q":1.7,"n":2.3},{"q":1.04,"n":39},{"q":0.86,"n":19},{"q":0.55,"n":2.3},{"q":0.11,"n":13},{"q":-0.15,"n":30},{"q":-0.99,"n":13},{"q":-1.17,"n":2.3},{"q":-1.88,"n":11},{"q":-2.14,"n":36},{"q":-2.7,"n":2.3},{"q":-2.94,"n":25},{"q":-3.1,"n":22},{"q":-3.86,"n":25},{"q":-4.13,"n":13},{"q":-4.92,"n":11},{"q":-5.1,"n":47},{"q":-5.72,"n":2.3},{"q":-6.1,"n":27},{"q":-6.65,"n":2.3},{"q":-6.91,"n":11},{"q":-7.08,"n":13},{"q":-7.8,"n":11},{"q":-8.06,"n":27},{"q":-8.85,"n":11},{"q":-9.07,"n":13},{"q":-9.82,"n":11},{"q":-10.04,"n":11},{"q":-10.9,"n":22},{"q":-11.06,"n":2.3},{"q":-12.07,"n":5},{"q":-12.8,"n":5},{"q":-13.0,"n":11},{"q":-13.75,"n":16},{"q":-14.0,"n":8},{"q":-14.8,"n":11},{"q":-15.05,"n":2.3},{"q":-15.8,"n":2.3},{"q":-16.9,"n":2.3},{"q":-17.8,"n":2.3},{"q":-18.6,"n":2.3},{"q":-19.6,"n":2.3},{"q":-22.0,"n":2.3},{"q":-23.6,"n":2.3}],
"r3": [{"q":24.97,"n":5},{"q":21.8,"n":5},{"q":20.6,"n":5},{"q":19.9,"n":5},{"q":19.05,"n":5},{"q":17.9,"n":11},{"q":17.06,"n":11},{"q":16.0,"n":11},{"q":15.8,"n":5},{"q":14.0,"n":5},{"q":13.84,"n":17},{"q":13.1,"n":23},{"q":12.8,"n":11},{"q":12.03,"n":11},{"q":11.85,"n":17},{"q":11.1,"n":23},{"q":10.84,"n":11},{"q":10.04,"n":23},{"q":9.7,"n":5},{"q":9.1,"n":17},{"q":8.85,"n":11},{"q":8.06,"n":29},{"q":7.9,"n":17},{"q":7.1,"n":23},{"q":6.87,"n":23},{"q":5.94,"n":5},{"q":5.14,"n":29},{"q":4.92,"n":23},{"q":4.08,"n":17},{"q":3.9,"n":11},{"q":2.9,"n":29},{"q":2.5,"n":11},{"q":2.1,"n":17},{"q":1.12,"n":29},{"q":0.86,"n":29},{"q":0.5,"n":5},{"q":0.11,"n":23},{"q":-0.3,"n":5},{"q":-0.86,"n":5},{"q":-1.08,"n":29},{"q":-1.88,"n":29},{"q":-2.05,"n":17},{"q":-2.8,"n":11},{"q":-3.0,"n":5},{"q":-3.9,"n":17},{"q":-4.8,"n":17},{"q":-5.05,"n":11},{"q":-5.6,"n":5},{"q":-5.98,"n":23},{"q":-6.78,"n":17},{"q":-7.0,"n":40},{"q":-7.84,"n":17},{"q":-8.0,"n":5},{"q":-8.8,"n":5},{"q":-9.03,"n":23},{"q":-9.87,"n":17},{"q":-10.2,"n":5},{"q":-10.75,"n":11},{"q":-11.8,"n":11},{"q":-12.0,"n":5},{"q":-12.74,"n":5},{"q":-12.96,"n":17},{"q":-13.8,"n":5},{"q":-13.97,"n":11},{"q":-15.0,"n":5},{"q":-16.98,"n":5},{"q":-17.9,"n":17},{"q":-18.96,"n":5}],
"r4": [{"q":24.97,"n":5},{"q":23.0,"n":5},{"q":17.06,"n":11},{"q":16.0,"n":5},{"q":15.1,"n":11},{"q":14.0,"n":29},{"q":11.94,"n":5},{"q":10.97,"n":5},{"q":10.04,"n":5},{"q":9.87,"n":23},{"q":9.1,"n":29},{"q":8.85,"n":23},{"q":8.4,"n":5},{"q":8.06,"n":34},{"q":7.9,"n":5},{"q":7.0,"n":11},{"q":6.07,"n":40},{"q":5.85,"n":11},{"q":5.14,"n":29},{"q":4.92,"n":23},{"q":4.08,"n":34},{"q":3.9,"n":23},{"q":3.2,"n":23},{"q":2.1,"n":11},{"q":1.93,"n":17},{"q":1.3,"n":5},{"q":1.17,"n":46},{"q":0.9,"n":11},{"q":0.11,"n":17},{"q":-0.1,"n":11},{"q":-0.4,"n":5},{"q":-0.86,"n":29},{"q":-1.08,"n":29},{"q":-1.88,"n":23},{"q":-2.05,"n":34},{"q":-2.8,"n":34},{"q":-3.0,"n":17},{"q":-3.86,"n":5},{"q":-4.0,"n":34},{"q":-4.83,"n":11},{"q":-5.05,"n":23},{"q":-5.8,"n":11},{"q":-5.98,"n":34},{"q":-6.78,"n":11},{"q":-7.0,"n":46},{"q":-7.44,"n":5},{"q":-7.8,"n":5},{"q":-7.97,"n":23},{"q":-8.76,"n":11},{"q":-9.03,"n":5},{"q":-9.87,"n":23},{"q":-10.35,"n":5},{"q":-10.75,"n":5},{"q":-11.0,"n":11},{"q":-11.94,"n":11},{"q":-13.0,"n":5},{"q":-13.8,"n":5},{"q":-15.8,"n":11},{"q":-16.0,"n":5},{"q":-16.7,"n":5},{"q":-17.9,"n":5},{"q":-18.7,"n":5},{"q":-19.9,"n":5},{"q":-20.7,"n":5}]
},
"hconcat": [
{"vconcat": [
 {"columns": 2, "align": "each", "bounds": "flush", "spacing": {"row": 13, "column": 14}, "concat": [
  {"width": 453, "height": 90, "view": {"stroke": "black", "strokeWidth": 1.5}, "layer": [
    {"data": {"name": "t1"}, "mark": {"type": "bar", "size": 1.8, "color": "#b0c4de"}, "encoding": {"x": {"field": "q", "type": "quantitative", "scale": {"domain": [-30, 30], "nice": false, "zero": false}, "axis": null}, "y": {"field": "n", "type": "quantitative", "scale": {"domain": [0, 90], "nice": false}, "axis": null}}},
    {"data": {"values": [{}]}, "mark": {"type": "rule", "color": "black", "strokeWidth": 1}, "encoding": {"x": {"datum": 0}}}
  ]},
  {"width": 90, "height": 90, "data": {"values": []}, "mark": {"type": "point"}},
  {"width": 453, "height": 453, "view": {"stroke": "black", "strokeWidth": 1.5}, "layer": [
    {"data": {"name": "p1"}, "mark": {"type": "point", "filled": true, "size": 0, "opacity": 0}, "encoding": {
      "x": {"field": "x", "type": "quantitative", "scale": {"domain": [-30, 30], "nice": false, "zero": false}, "axis": {"title": null, "format": "d", "tickCount": 100, "values": [-30,-29,-28,-27,-26,-25,-24,-23,-22,-21,-20,-19,-18,-17,-16,-15,-14,-13,-12,-11,-10,-9,-8,-7,-6,-5,-4,-3,-2,-1,0,1,2,3,4,5,6,7,8,9,10,11,12,13,14,15,16,17,18,19,20,21,22,23,24,25,26,27,28,29,30], "labelExpr": "datum.value % 10 === 0 ? datum.label : ''", "labelPadding": 5, "labelOverlap": false, "labelFlush": false}},
      "y": {"field": "y", "type": "quantitative", "scale": {"domain": [-30, 30], "nice": false, "zero": false}, "axis": {"title": null, "format": "d", "tickCount": 100, "values": [-30,-29,-28,-27,-26,-25,-24,-23,-22,-21,-20,-19,-18,-17,-16,-15,-14,-13,-12,-11,-10,-9,-8,-7,-6,-5,-4,-3,-2,-1,0,1,2,3,4,5,6,7,8,9,10,11,12,13,14,15,16,17,18,19,20,21,22,23,24,25,26,27,28,29,30], "labelExpr": "datum.value % 10 === 0 ? datum.label : ''", "labelPadding": 7, "labelOverlap": false, "labelFlush": false}}}},
    {"data": {"values": [{}]}, "mark": {"type": "rule", "color": "black", "strokeWidth": 1}, "encoding": {"x": {"datum": 0}}},
    {"data": {"values": [{}]}, "mark": {"type": "rule", "color": "black", "strokeWidth": 1}, "encoding": {"y": {"datum": 0}}},
    {"data": {"values": [{}]}, "mark": {"type": "rule", "color": "black", "strokeWidth": 0.9, "strokeDash": [4, 3]}, "encoding": {"x": {"datum": -30}, "y": {"datum": -30}, "x2": {"datum": 30}, "y2": {"datum": 30}}},
    {"data": {"name": "e1"}, "mark": {"type": "line", "interpolate": "cardinal-closed", "color": "#ff8a14", "strokeWidth": 1.8, "strokeDash": [6, 4]}, "encoding": {"x": {"field": "x", "type": "quantitative", "axis": {"title": null}}, "y": {"field": "y", "type": "quantitative", "axis": {"title": null}}, "order": {"field": "t", "type": "quantitative"}}},
    {"data": {"name": "p1"}, "mark": {"type": "point", "filled": true, "size": 18, "color": "#5e81b5", "opacity": 1}, "encoding": {"x": {"field": "x", "type": "quantitative"}, "y": {"field": "y", "type": "quantitative"}}},
    {"data": {"values": [{}]}, "mark": {"type": "rect", "fill": "white", "stroke": "black", "strokeWidth": 1}, "encoding": {"x": {"datum": -26.95}, "x2": {"datum": -17.0}, "y": {"datum": 26.8}, "y2": {"datum": 23.1}}},
    {"data": {"values": [{}]}, "mark": {"type": "text", "text": "β", "fontStyle": "italic", "fontSize": 17, "align": "left", "baseline": "middle", "dx": 7}, "encoding": {"x": {"datum": -26.95}, "y": {"datum": 24.95}}},
    {"data": {"values": [{}]}, "mark": {"type": "text", "text": "=5.626", "fontSize": 17, "align": "left", "baseline": "middle", "dx": 17}, "encoding": {"x": {"datum": -26.95}, "y": {"datum": 24.95}}},
    {"data": {"values": [{}]}, "mark": {"type": "text", "text": "Q", "fontSize": 20, "align": "center", "baseline": "middle", "dx": -9, "dy": 43}, "encoding": {"x": {"datum": 0}, "y": {"datum": -30}}},
    {"data": {"values": [{}]}, "mark": {"type": "text", "text": "fine", "fontSize": 14, "align": "left", "baseline": "middle", "dx": 0, "dy": 49}, "encoding": {"x": {"datum": 0}, "y": {"datum": -30}}},
    {"data": {"values": [{}]}, "mark": {"type": "text", "text": "Q", "fontSize": 20, "angle": 270, "align": "center", "baseline": "middle", "dx": -20, "dy": -66}, "encoding": {"x": {"datum": -30}, "y": {"datum": 0}}},
    {"data": {"values": [{}]}, "mark": {"type": "text", "text": "refined", "fontSize": 14, "angle": 270, "align": "left", "baseline": "middle", "dx": -10, "dy": -59}, "encoding": {"x": {"datum": -30}, "y": {"datum": 0}}}
  ]},
  {"width": 90, "height": 453, "view": {"stroke": "black", "strokeWidth": 1.5}, "layer": [
    {"data": {"name": "r1"}, "mark": {"type": "bar", "orient": "horizontal", "size": 1.8, "color": "#b0c4de"}, "encoding": {"y": {"field": "q", "type": "quantitative", "scale": {"domain": [-30, 30], "nice": false, "zero": false}, "axis": null}, "x": {"field": "n", "type": "quantitative", "scale": {"domain": [0, 90], "nice": false}, "axis": null}}},
    {"data": {"values": [{}]}, "mark": {"type": "rule", "color": "black", "strokeWidth": 1}, "encoding": {"y": {"datum": 0}}}
  ]}
 ]},
 {"columns": 2, "align": "each", "bounds": "flush", "spacing": {"row": 13, "column": 14}, "concat": [
  {"width": 453, "height": 90, "view": {"stroke": "black", "strokeWidth": 1.5}, "layer": [
    {"data": {"name": "t3"}, "mark": {"type": "bar", "size": 1.8, "color": "#b0c4de"}, "encoding": {"x": {"field": "q", "type": "quantitative", "scale": {"domain": [-30, 30], "nice": false, "zero": false}, "axis": null}, "y": {"field": "n", "type": "quantitative", "scale": {"domain": [0, 90], "nice": false}, "axis": null}}},
    {"data": {"values": [{}]}, "mark": {"type": "rule", "color": "black", "strokeWidth": 1}, "encoding": {"x": {"datum": 0}}}
  ]},
  {"width": 90, "height": 90, "data": {"values": []}, "mark": {"type": "point"}},
  {"width": 453, "height": 453, "view": {"stroke": "black", "strokeWidth": 1.5}, "layer": [
    {"data": {"name": "p3"}, "mark": {"type": "point", "filled": true, "size": 0, "opacity": 0}, "encoding": {
      "x": {"field": "x", "type": "quantitative", "scale": {"domain": [-30, 30], "nice": false, "zero": false}, "axis": {"title": null, "format": "d", "tickCount": 100, "values": [-30,-29,-28,-27,-26,-25,-24,-23,-22,-21,-20,-19,-18,-17,-16,-15,-14,-13,-12,-11,-10,-9,-8,-7,-6,-5,-4,-3,-2,-1,0,1,2,3,4,5,6,7,8,9,10,11,12,13,14,15,16,17,18,19,20,21,22,23,24,25,26,27,28,29,30], "labelExpr": "datum.value % 10 === 0 ? datum.label : ''", "labelPadding": 5, "labelOverlap": false, "labelFlush": false}},
      "y": {"field": "y", "type": "quantitative", "scale": {"domain": [-30, 30], "nice": false, "zero": false}, "axis": {"title": null, "format": "d", "tickCount": 100, "values": [-30,-29,-28,-27,-26,-25,-24,-23,-22,-21,-20,-19,-18,-17,-16,-15,-14,-13,-12,-11,-10,-9,-8,-7,-6,-5,-4,-3,-2,-1,0,1,2,3,4,5,6,7,8,9,10,11,12,13,14,15,16,17,18,19,20,21,22,23,24,25,26,27,28,29,30], "labelExpr": "datum.value % 10 === 0 ? datum.label : ''", "labelPadding": 7, "labelOverlap": false, "labelFlush": false}}}},
    {"data": {"values": [{}]}, "mark": {"type": "rule", "color": "black", "strokeWidth": 1}, "encoding": {"x": {"datum": 0}}},
    {"data": {"values": [{}]}, "mark": {"type": "rule", "color": "black", "strokeWidth": 1}, "encoding": {"y": {"datum": 0}}},
    {"data": {"values": [{}]}, "mark": {"type": "rule", "color": "black", "strokeWidth": 0.9, "strokeDash": [4, 3]}, "encoding": {"x": {"datum": -30}, "y": {"datum": -30}, "x2": {"datum": 30}, "y2": {"datum": 30}}},
    {"data": {"name": "e3"}, "mark": {"type": "line", "interpolate": "cardinal-closed", "color": "#ff8a14", "strokeWidth": 1.8, "strokeDash": [6, 4]}, "encoding": {"x": {"field": "x", "type": "quantitative", "axis": {"title": null}}, "y": {"field": "y", "type": "quantitative", "axis": {"title": null}}, "order": {"field": "t", "type": "quantitative"}}},
    {"data": {"name": "p3"}, "mark": {"type": "point", "filled": true, "size": 18, "color": "#5e81b5", "opacity": 1}, "encoding": {"x": {"field": "x", "type": "quantitative"}, "y": {"field": "y", "type": "quantitative"}}},
    {"data": {"values": [{}]}, "mark": {"type": "rect", "fill": "white", "stroke": "black", "strokeWidth": 1}, "encoding": {"x": {"datum": -26.95}, "x2": {"datum": -17.6}, "y": {"datum": 26.8}, "y2": {"datum": 23.1}}},
    {"data": {"values": [{}]}, "mark": {"type": "text", "text": "β", "fontStyle": "italic", "fontSize": 17, "align": "left", "baseline": "middle", "dx": 7}, "encoding": {"x": {"datum": -26.95}, "y": {"datum": 24.95}}},
    {"data": {"values": [{}]}, "mark": {"type": "text", "text": "=5.96", "fontSize": 17, "align": "left", "baseline": "middle", "dx": 17}, "encoding": {"x": {"datum": -26.95}, "y": {"datum": 24.95}}},
    {"data": {"values": [{}]}, "mark": {"type": "text", "text": "Q", "fontSize": 20, "align": "center", "baseline": "middle", "dx": -9, "dy": 43}, "encoding": {"x": {"datum": 0}, "y": {"datum": -30}}},
    {"data": {"values": [{}]}, "mark": {"type": "text", "text": "fine", "fontSize": 14, "align": "left", "baseline": "middle", "dx": 0, "dy": 49}, "encoding": {"x": {"datum": 0}, "y": {"datum": -30}}},
    {"data": {"values": [{}]}, "mark": {"type": "text", "text": "Q", "fontSize": 20, "angle": 270, "align": "center", "baseline": "middle", "dx": -20, "dy": -66}, "encoding": {"x": {"datum": -30}, "y": {"datum": 0}}},
    {"data": {"values": [{}]}, "mark": {"type": "text", "text": "refined", "fontSize": 14, "angle": 270, "align": "left", "baseline": "middle", "dx": -10, "dy": -59}, "encoding": {"x": {"datum": -30}, "y": {"datum": 0}}}
  ]},
  {"width": 90, "height": 453, "view": {"stroke": "black", "strokeWidth": 1.5}, "layer": [
    {"data": {"name": "r3"}, "mark": {"type": "bar", "orient": "horizontal", "size": 1.8, "color": "#b0c4de"}, "encoding": {"y": {"field": "q", "type": "quantitative", "scale": {"domain": [-30, 30], "nice": false, "zero": false}, "axis": null}, "x": {"field": "n", "type": "quantitative", "scale": {"domain": [0, 90], "nice": false}, "axis": null}}},
    {"data": {"values": [{}]}, "mark": {"type": "rule", "color": "black", "strokeWidth": 1}, "encoding": {"y": {"datum": 0}}}
  ]}
 ]}
], "spacing": 27},
{"vconcat": [
 {"columns": 2, "align": "each", "bounds": "flush", "spacing": {"row": 13, "column": 14}, "concat": [
  {"width": 453, "height": 90, "view": {"stroke": "black", "strokeWidth": 1.5}, "layer": [
    {"data": {"name": "t2"}, "mark": {"type": "bar", "size": 1.8, "color": "#b0c4de"}, "encoding": {"x": {"field": "q", "type": "quantitative", "scale": {"domain": [-30, 30], "nice": false, "zero": false}, "axis": null}, "y": {"field": "n", "type": "quantitative", "scale": {"domain": [0, 90], "nice": false}, "axis": null}}},
    {"data": {"values": [{}]}, "mark": {"type": "rule", "color": "black", "strokeWidth": 1}, "encoding": {"x": {"datum": 0}}}
  ]},
  {"width": 90, "height": 90, "data": {"values": []}, "mark": {"type": "point"}},
  {"width": 453, "height": 453, "view": {"stroke": "black", "strokeWidth": 1.5}, "layer": [
    {"data": {"name": "p2"}, "mark": {"type": "point", "filled": true, "size": 0, "opacity": 0}, "encoding": {
      "x": {"field": "x", "type": "quantitative", "scale": {"domain": [-30, 30], "nice": false, "zero": false}, "axis": {"title": null, "format": "d", "tickCount": 100, "values": [-30,-29,-28,-27,-26,-25,-24,-23,-22,-21,-20,-19,-18,-17,-16,-15,-14,-13,-12,-11,-10,-9,-8,-7,-6,-5,-4,-3,-2,-1,0,1,2,3,4,5,6,7,8,9,10,11,12,13,14,15,16,17,18,19,20,21,22,23,24,25,26,27,28,29,30], "labelExpr": "datum.value % 10 === 0 ? datum.label : ''", "labelPadding": 5, "labelOverlap": false, "labelFlush": false}},
      "y": {"field": "y", "type": "quantitative", "scale": {"domain": [-30, 30], "nice": false, "zero": false}, "axis": {"title": null, "format": "d", "tickCount": 100, "values": [-30,-29,-28,-27,-26,-25,-24,-23,-22,-21,-20,-19,-18,-17,-16,-15,-14,-13,-12,-11,-10,-9,-8,-7,-6,-5,-4,-3,-2,-1,0,1,2,3,4,5,6,7,8,9,10,11,12,13,14,15,16,17,18,19,20,21,22,23,24,25,26,27,28,29,30], "labelExpr": "datum.value % 10 === 0 ? datum.label : ''", "labelPadding": 7, "labelOverlap": false, "labelFlush": false}}}},
    {"data": {"values": [{}]}, "mark": {"type": "rule", "color": "black", "strokeWidth": 1}, "encoding": {"x": {"datum": 0}}},
    {"data": {"values": [{}]}, "mark": {"type": "rule", "color": "black", "strokeWidth": 1}, "encoding": {"y": {"datum": 0}}},
    {"data": {"values": [{}]}, "mark": {"type": "rule", "color": "black", "strokeWidth": 0.9, "strokeDash": [4, 3]}, "encoding": {"x": {"datum": -30}, "y": {"datum": -30}, "x2": {"datum": 30}, "y2": {"datum": 30}}},
    {"data": {"name": "e2"}, "mark": {"type": "line", "interpolate": "cardinal-closed", "color": "#ff8a14", "strokeWidth": 1.8, "strokeDash": [6, 4]}, "encoding": {"x": {"field": "x", "type": "quantitative", "axis": {"title": null}}, "y": {"field": "y", "type": "quantitative", "axis": {"title": null}}, "order": {"field": "t", "type": "quantitative"}}},
    {"data": {"name": "p2"}, "mark": {"type": "point", "filled": true, "size": 18, "color": "#5e81b5", "opacity": 1}, "encoding": {"x": {"field": "x", "type": "quantitative"}, "y": {"field": "y", "type": "quantitative"}}},
    {"data": {"values": [{}]}, "mark": {"type": "rect", "fill": "white", "stroke": "black", "strokeWidth": 1}, "encoding": {"x": {"datum": -26.95}, "x2": {"datum": -17.6}, "y": {"datum": 26.8}, "y2": {"datum": 23.1}}},
    {"data": {"values": [{}]}, "mark": {"type": "text", "text": "β", "fontStyle": "italic", "fontSize": 17, "align": "left", "baseline": "middle", "dx": 7}, "encoding": {"x": {"datum": -26.95}, "y": {"datum": 24.95}}},
    {"data": {"values": [{}]}, "mark": {"type": "text", "text": "=5.78", "fontSize": 17, "align": "left", "baseline": "middle", "dx": 17}, "encoding": {"x": {"datum": -26.95}, "y": {"datum": 24.95}}},
    {"data": {"values": [{}]}, "mark": {"type": "text", "text": "Q", "fontSize": 20, "align": "center", "baseline": "middle", "dx": -9, "dy": 43}, "encoding": {"x": {"datum": 0}, "y": {"datum": -30}}},
    {"data": {"values": [{}]}, "mark": {"type": "text", "text": "fine", "fontSize": 14, "align": "left", "baseline": "middle", "dx": 0, "dy": 49}, "encoding": {"x": {"datum": 0}, "y": {"datum": -30}}},
    {"data": {"values": [{}]}, "mark": {"type": "text", "text": "Q", "fontSize": 20, "angle": 270, "align": "center", "baseline": "middle", "dx": -20, "dy": -66}, "encoding": {"x": {"datum": -30}, "y": {"datum": 0}}},
    {"data": {"values": [{}]}, "mark": {"type": "text", "text": "refined", "fontSize": 14, "angle": 270, "align": "left", "baseline": "middle", "dx": -10, "dy": -59}, "encoding": {"x": {"datum": -30}, "y": {"datum": 0}}}
  ]},
  {"width": 90, "height": 453, "view": {"stroke": "black", "strokeWidth": 1.5}, "layer": [
    {"data": {"name": "r2"}, "mark": {"type": "bar", "orient": "horizontal", "size": 1.8, "color": "#b0c4de"}, "encoding": {"y": {"field": "q", "type": "quantitative", "scale": {"domain": [-30, 30], "nice": false, "zero": false}, "axis": null}, "x": {"field": "n", "type": "quantitative", "scale": {"domain": [0, 90], "nice": false}, "axis": null}}},
    {"data": {"values": [{}]}, "mark": {"type": "rule", "color": "black", "strokeWidth": 1}, "encoding": {"y": {"datum": 0}}}
  ]}
 ]},
 {"columns": 2, "align": "each", "bounds": "flush", "spacing": {"row": 13, "column": 14}, "concat": [
  {"width": 453, "height": 90, "view": {"stroke": "black", "strokeWidth": 1.5}, "layer": [
    {"data": {"name": "t4"}, "mark": {"type": "bar", "size": 1.8, "color": "#b0c4de"}, "encoding": {"x": {"field": "q", "type": "quantitative", "scale": {"domain": [-30, 30], "nice": false, "zero": false}, "axis": null}, "y": {"field": "n", "type": "quantitative", "scale": {"domain": [0, 90], "nice": false}, "axis": null}}},
    {"data": {"values": [{}]}, "mark": {"type": "rule", "color": "black", "strokeWidth": 1}, "encoding": {"x": {"datum": 0}}}
  ]},
  {"width": 90, "height": 90, "data": {"values": []}, "mark": {"type": "point"}},
  {"width": 453, "height": 453, "view": {"stroke": "black", "strokeWidth": 1.5}, "layer": [
    {"data": {"name": "p4"}, "mark": {"type": "point", "filled": true, "size": 0, "opacity": 0}, "encoding": {
      "x": {"field": "x", "type": "quantitative", "scale": {"domain": [-30, 30], "nice": false, "zero": false}, "axis": {"title": null, "format": "d", "tickCount": 100, "values": [-30,-29,-28,-27,-26,-25,-24,-23,-22,-21,-20,-19,-18,-17,-16,-15,-14,-13,-12,-11,-10,-9,-8,-7,-6,-5,-4,-3,-2,-1,0,1,2,3,4,5,6,7,8,9,10,11,12,13,14,15,16,17,18,19,20,21,22,23,24,25,26,27,28,29,30], "labelExpr": "datum.value % 10 === 0 ? datum.label : ''", "labelPadding": 5, "labelOverlap": false, "labelFlush": false}},
      "y": {"field": "y", "type": "quantitative", "scale": {"domain": [-30, 30], "nice": false, "zero": false}, "axis": {"title": null, "format": "d", "tickCount": 100, "values": [-30,-29,-28,-27,-26,-25,-24,-23,-22,-21,-20,-19,-18,-17,-16,-15,-14,-13,-12,-11,-10,-9,-8,-7,-6,-5,-4,-3,-2,-1,0,1,2,3,4,5,6,7,8,9,10,11,12,13,14,15,16,17,18,19,20,21,22,23,24,25,26,27,28,29,30], "labelExpr": "datum.value % 10 === 0 ? datum.label : ''", "labelPadding": 7, "labelOverlap": false, "labelFlush": false}}}},
    {"data": {"values": [{}]}, "mark": {"type": "rule", "color": "black", "strokeWidth": 1}, "encoding": {"x": {"datum": 0}}},
    {"data": {"values": [{}]}, "mark": {"type": "rule", "color": "black", "strokeWidth": 1}, "encoding": {"y": {"datum": 0}}},
    {"data": {"values": [{}]}, "mark": {"type": "rule", "color": "black", "strokeWidth": 0.9, "strokeDash": [4, 3]}, "encoding": {"x": {"datum": -30}, "y": {"datum": -30}, "x2": {"datum": 30}, "y2": {"datum": 30}}},
    {"data": {"name": "e4"}, "mark": {"type": "line", "interpolate": "cardinal-closed", "color": "#ff8a14", "strokeWidth": 1.8, "strokeDash": [6, 4]}, "encoding": {"x": {"field": "x", "type": "quantitative", "axis": {"title": null}}, "y": {"field": "y", "type": "quantitative", "axis": {"title": null}}, "order": {"field": "t", "type": "quantitative"}}},
    {"data": {"name": "p4"}, "mark": {"type": "point", "filled": true, "size": 18, "color": "#5e81b5", "opacity": 1}, "encoding": {"x": {"field": "x", "type": "quantitative"}, "y": {"field": "y", "type": "quantitative"}}},
    {"data": {"values": [{}]}, "mark": {"type": "rect", "fill": "white", "stroke": "black", "strokeWidth": 1}, "encoding": {"x": {"datum": -26.95}, "x2": {"datum": -17.6}, "y": {"datum": 26.8}, "y2": {"datum": 23.1}}},
    {"data": {"values": [{}]}, "mark": {"type": "text", "text": "β", "fontStyle": "italic", "fontSize": 17, "align": "left", "baseline": "middle", "dx": 7}, "encoding": {"x": {"datum": -26.95}, "y": {"datum": 24.95}}},
    {"data": {"values": [{}]}, "mark": {"type": "text", "text": "=6.17", "fontSize": 17, "align": "left", "baseline": "middle", "dx": 17}, "encoding": {"x": {"datum": -26.95}, "y": {"datum": 24.95}}},
    {"data": {"values": [{}]}, "mark": {"type": "text", "text": "Q", "fontSize": 20, "align": "center", "baseline": "middle", "dx": -9, "dy": 43}, "encoding": {"x": {"datum": 0}, "y": {"datum": -30}}},
    {"data": {"values": [{}]}, "mark": {"type": "text", "text": "fine", "fontSize": 14, "align": "left", "baseline": "middle", "dx": 0, "dy": 49}, "encoding": {"x": {"datum": 0}, "y": {"datum": -30}}},
    {"data": {"values": [{}]}, "mark": {"type": "text", "text": "Q", "fontSize": 20, "angle": 270, "align": "center", "baseline": "middle", "dx": -20, "dy": -66}, "encoding": {"x": {"datum": -30}, "y": {"datum": 0}}},
    {"data": {"values": [{}]}, "mark": {"type": "text", "text": "refined", "fontSize": 14, "angle": 270, "align": "left", "baseline": "middle", "dx": -10, "dy": -59}, "encoding": {"x": {"datum": -30}, "y": {"datum": 0}}}
  ]},
  {"width": 90, "height": 453, "view": {"stroke": "black", "strokeWidth": 1.5}, "layer": [
    {"data": {"name": "r4"}, "mark": {"type": "bar", "orient": "horizontal", "size": 1.8, "color": "#b0c4de"}, "encoding": {"y": {"field": "q", "type": "quantitative", "scale": {"domain": [-30, 30], "nice": false, "zero": false}, "axis": null}, "x": {"field": "n", "type": "quantitative", "scale": {"domain": [0, 90], "nice": false}, "axis": null}}},
    {"data": {"values": [{}]}, "mark": {"type": "rule", "color": "black", "strokeWidth": 1}, "encoding": {"y": {"datum": 0}}}
  ]}
 ]}
], "spacing": 27}
],
"spacing": 57
}
